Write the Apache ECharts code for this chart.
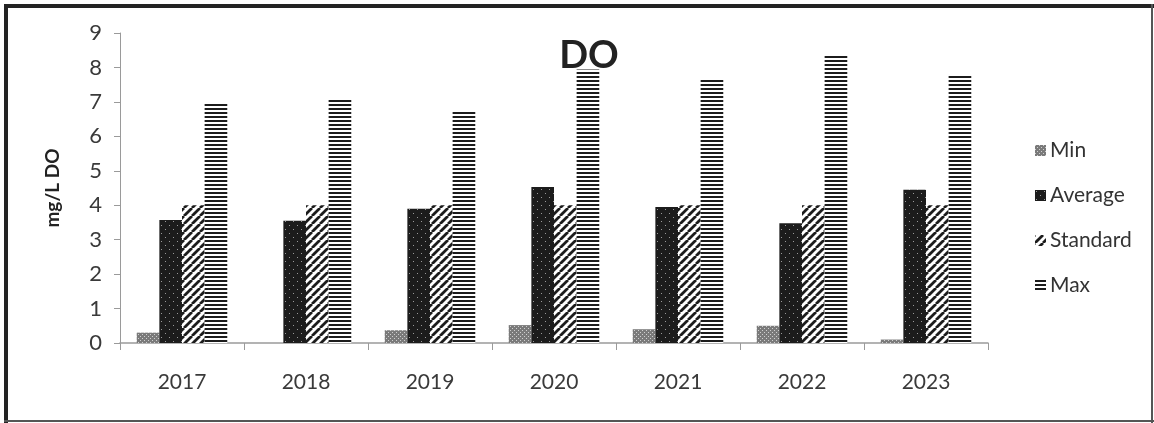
<!DOCTYPE html>
<html>
<head>
<meta charset="utf-8">
<style>
  html, body { margin: 0; padding: 0; background: #fff; }
  #chart { width: 1154px; height: 423px; }
</style>
<script src="https://cdn.jsdelivr.net/npm/echarts@6/dist/echarts.min.js"></script>
</head>
<body>
<div id="chart"></div>
<script>
// Dissolved oxygen by year (mg/L)
const years = ['2017', '2018', '2019', '2020', '2021', '2022', '2023'];
const minValues = [0.3, 0, 0.37, 0.52, 0.4, 0.5, 0.1];
const avgValues = [3.57, 3.55, 3.9, 4.53, 3.95, 3.48, 4.45];
const standardValues = [4, 4, 4, 4, 4, 4, 4];
const maxValues = [6.95, 7.09, 6.72, 7.94, 7.67, 8.37, 7.79];
const seriesNames = ['Min', 'Average', 'Standard', 'Max'];
const yTicks = [0, 1, 2, 3, 4, 5, 6, 7, 8, 9];

const FONT = 'Lato';

// Monochrome fill patterns drawn on small canvases
function makePattern(w, h, draw) {
  const c = document.createElement('canvas');
  c.width = w; c.height = h;
  const ctx = c.getContext('2d');
  draw(ctx, w, h);
  return { image: c, repeat: 'repeat' };
}

const dottedGrey = makePattern(4, 4, (ctx, w, h) => {
  ctx.fillStyle = '#7a7a7a'; ctx.fillRect(0, 0, w, h);
  ctx.fillStyle = '#cfcfcf';
  ctx.fillRect(0, 0, 1, 1); ctx.fillRect(2, 2, 1, 1);
});

const dottedBlack = makePattern(8, 8, (ctx, w, h) => {
  ctx.fillStyle = '#1c1c1c'; ctx.fillRect(0, 0, w, h);
  ctx.fillStyle = '#9a9a9a';
  ctx.fillRect(1, 1, 1, 1); ctx.fillRect(5, 5, 1, 1);
});

const diagonal = makePattern(8, 8, (ctx, w, h) => {
  ctx.fillStyle = '#ffffff'; ctx.fillRect(0, 0, w, h);
  ctx.strokeStyle = '#1c1c1c'; ctx.lineWidth = 2.8;
  ctx.beginPath();
  for (let k = -1; k <= 1; k++) {
    ctx.moveTo(k * w, h); ctx.lineTo(k * w + w, 0);
  }
  ctx.stroke();
});

const horizontal = makePattern(4, 4, (ctx, w, h) => {
  ctx.fillStyle = '#ffffff'; ctx.fillRect(0, 0, w, h);
  ctx.fillStyle = '#1c1c1c'; ctx.fillRect(0, 0, w, 2);
});

const fills = [dottedGrey, dottedBlack, diagonal, horizontal];
const values = [minValues, avgValues, standardValues, maxValues];

const chart = echarts.init(document.getElementById('chart'), null, { renderer: 'canvas' });

chart.setOption({
  backgroundColor: '#ffffff',
  animation: false,
  title: {
    text: 'DO',
    left: 584, top: 32, textAlign: 'center',
    textStyle: { fontFamily: FONT, fontWeight: 'bold', fontSize: 38, color: '#222' }
  },
  legend: {
    orient: 'vertical',
    left: 1030, top: 135,
    itemWidth: 11, itemHeight: 11, itemGap: 24,
    icon: 'rect',
    data: seriesNames,
    textStyle: { fontFamily: FONT, fontSize: 21, color: '#333', padding: [0, 0, 0, -1] }
  },
  grid: { left: 120, right: 166, top: 33, bottom: 80 },
  xAxis: {
    type: 'category',
    data: years,
    axisLine: { lineStyle: { color: '#9a9a9a', width: 1.5 } },
    axisTick: { show: true, length: 7, lineStyle: { color: '#9a9a9a' } },
    axisLabel: { margin: 29, fontFamily: FONT, fontSize: 21, color: '#3a3a3a' },
    splitLine: { show: false }
  },
  yAxis: {
    type: 'value',
    min: yTicks[0], max: yTicks[yTicks.length - 1], interval: 1,
    name: 'mg/L DO',
    nameLocation: 'middle',
    nameGap: 58,
    nameRotate: 90,
    nameTextStyle: { fontFamily: FONT, fontWeight: 'bold', fontSize: 19, color: '#222' },
    axisLine: { show: true, lineStyle: { color: '#9a9a9a', width: 1 } },
    axisTick: { show: true, inside: false, length: 6, lineStyle: { color: '#9a9a9a' } },
    axisLabel: { margin: 18, fontFamily: FONT, fontSize: 22, color: '#3a3a3a' },
    splitLine: { show: false }
  },
  series: seriesNames.map((name, i) => ({
    name,
    type: 'bar',
    data: values[i],
    barGap: '0%',
    barCategoryGap: '27%',
    itemStyle: { color: fills[i] }
  })),
  graphic: [
    { type: 'rect', shape: { x: 4, y: 4, width: 1150, height: 4 }, style: { fill: '#232323' } },
    { type: 'rect', shape: { x: 4, y: 4, width: 4, height: 419 }, style: { fill: '#232323' } },
    { type: 'rect', shape: { x: 1151, y: 4, width: 2, height: 419 }, style: { fill: '#555' } },
    { type: 'rect', shape: { x: 4, y: 420, width: 1150, height: 2 }, style: { fill: '#555' } }
  ]
});
</script>
</body>
</html>
